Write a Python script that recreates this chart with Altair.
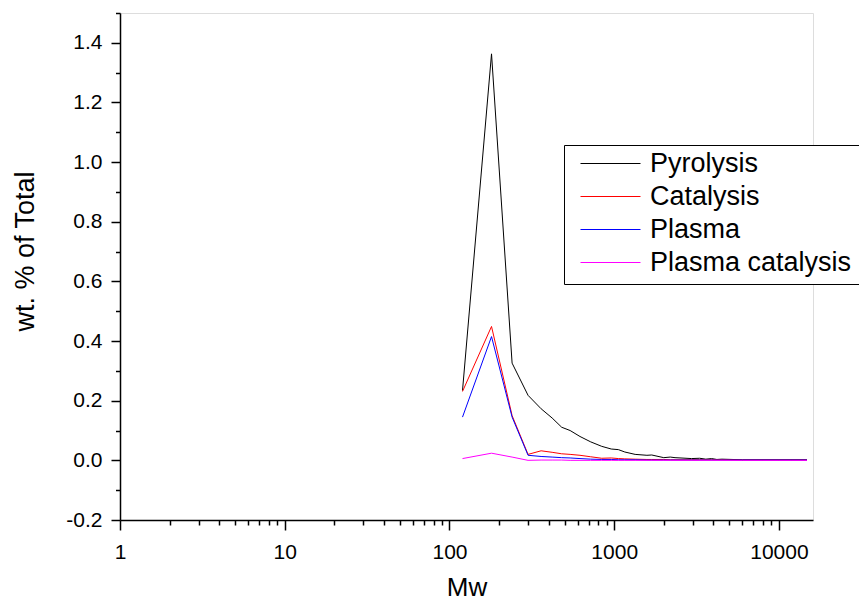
import altair as alt
import pandas as pd

mw = [120, 180, 240, 300, 360, 420, 480, 540, 620, 720, 840, 960, 1060, 1160, 1340,
      1580, 1690, 2000, 2190, 2340, 2950, 3300, 3600, 3900, 4200, 4500, 6000, 8000,
      10000, 12000, 14800]

pyrolysis = [0.234, 1.363, 0.326, 0.218, 0.173, 0.142, 0.111, 0.100, 0.080, 0.062, 0.047,
             0.038, 0.036, 0.028, 0.020, 0.017, 0.018, 0.009, 0.011, 0.009, 0.006, 0.007,
             0.004, 0.006, 0.003, 0.004, 0.002, 0.002, 0.002, 0.002, 0.002]
catalysis = [0.231, 0.449, 0.150, 0.020, 0.032, 0.027, 0.022, 0.020, 0.017, 0.012, 0.007,
             0.008, 0.006, 0.005, 0.004, 0.003, 0.003, 0.003, 0.002, 0.002, 0.002, 0.002,
             0.002, 0.002, 0.002, 0.002, 0.001, 0.001, 0.001, 0.001, 0.001]
plasma = [0.145, 0.415, 0.145, 0.017, 0.013, 0.011, 0.009, 0.008, 0.006, 0.004, 0.003,
          0.003, 0.002, 0.002, 0.002, 0.001, 0.001, 0.001, 0.001, 0.001, 0.001, 0.001,
          0.001, 0.001, 0.001, 0.001, 0.001, 0.001, 0.001, 0.001, 0.001]
plasma_catalysis = [0.006, 0.024, 0.011, 0.000, 0.001, 0.001, 0.001, 0.000, 0.000, 0.000,
                    0.000, 0.000, 0.000, 0.000, 0.000, 0.000, 0.000, 0.000, 0.000, 0.000,
                    0.000, 0.000, 0.000, 0.000, 0.000, 0.000, 0.000, 0.000, 0.000, 0.000,
                    0.000]

series_names = ["Pyrolysis", "Catalysis", "Plasma", "Plasma catalysis"]
series_colors = ["#000000", "#FF0000", "#0000FF", "#FF00FF"]
series_values = [pyrolysis, catalysis, plasma, plasma_catalysis]

x_ticks = [m * 10 ** e for e in range(4) for m in range(1, 10)] + [10000]
y_ticks = [round(-0.2 + 0.1 * i, 1) for i in range(18)]

rows = []
for order, (name, vals) in enumerate(zip(series_names, series_values)):
    for x, v in zip(mw, vals):
        rows.append({"Mw": x, "value": v, "series": name, "order": order})
df = pd.DataFrame(rows)

FONT = "Liberation Sans"

x_axis = alt.Axis(
    values=x_ticks,
    title="Mw",
    titleFont=FONT, titleFontSize=26, titleFontWeight="normal", titleColor="black",
    titleX=346.5, titleY=75, titleBaseline="alphabetic", titleAlign="center",
    labelFont=FONT, labelFontSize=21, labelColor="black",
    labelExpr="indexof([1,10,100,1000,10000], datum.value) >= 0 ? format(datum.value, 'd') : ''",
    labelOverlap=False, labelFlush=False, labelBound=False,
    labelPadding=11,
    tickSize={"condition": {"test": "indexof([1,10,100,1000,10000], datum.value) < 0", "value": 5}, "value": 10},
    tickColor="black", tickWidth=1.5, domainColor="black", domainWidth=1.5,
    grid=False,
)

y_axis = alt.Axis(
    values=y_ticks,
    title="wt. % of Total",
    titleFont=FONT, titleFontSize=27, titleFontWeight="normal", titleColor="black",
    titleX=-87, titleY=238, titleBaseline="alphabetic", titleAlign="center", titleAngle=270,
    labelFont=FONT, labelFontSize=21, labelColor="black",
    labelExpr="abs(round(datum.value*10)) % 2 == 0 ? (datum.value < -0.001 ? '-' : '') + format(abs(datum.value), '.1f') : ''",
    labelOverlap=False, labelBound=False,
    labelPadding=9,
    tickSize={"condition": {"test": "abs(round(datum.value*10)) % 2 == 1", "value": 4.5}, "value": 9},
    tickColor="black", tickWidth=1.5, domainColor="black", domainWidth=1.5,
    grid=False,
)

chart = alt.Chart(df).mark_line(strokeWidth=1).encode(
    x=alt.X("Mw:Q", scale=alt.Scale(type="log", domain=[1, 16100], nice=False), axis=x_axis),
    y=alt.Y("value:Q", scale=alt.Scale(domain=[-0.2, 1.5], nice=False, zero=False), axis=y_axis),
    color=alt.Color(
        "series:N",
        scale=alt.Scale(domain=series_names, range=series_colors),
        legend=alt.Legend(
            title=None, orient="none", legendX=444, legendY=132,
            strokeColor="black", fillColor="white", padding=8,
            symbolType="stroke", symbolSize=3600, symbolStrokeWidth=1, symbolOffset=8,
            labelFont=FONT, labelFontSize=27, labelColor="black", labelLimit=400,
            labelOffset=9, clipHeight=21, rowPadding=5,
        ),
    ),
    order=alt.Order("order:Q"),
).properties(
    width=693, height=507,
    autosize=alt.AutoSizeParams(type="none"),
    padding={"left": 120, "top": 13, "right": 46, "bottom": 81},
).configure_view(stroke=None).configure(background="white")

chart.save("out.html", embed_options={"renderer": "svg", "actions": False})
